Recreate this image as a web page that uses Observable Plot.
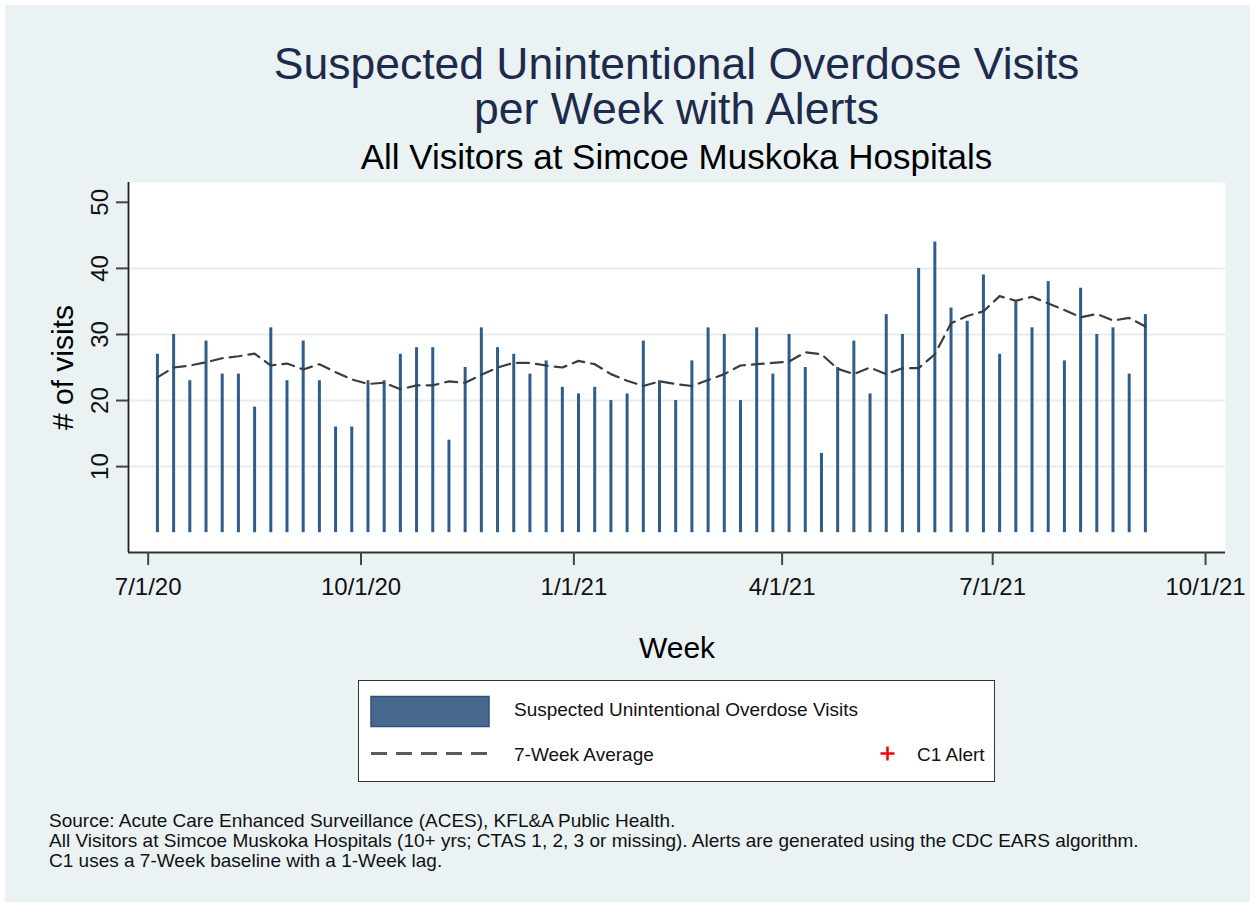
<!DOCTYPE html>
<html><head><meta charset="utf-8">
<script src="https://cdn.jsdelivr.net/npm/d3@7"></script>
<script src="https://cdn.jsdelivr.net/npm/@observablehq/plot@0.6"></script>
<style>
body{margin:0;background:#fff;width:1256px;height:907px;overflow:hidden;position:relative;font-family:"Liberation Sans",Arial,sans-serif;}
#bg{position:absolute;left:5px;top:5px;width:1245px;height:897px;background:#eaf2f3;}
.t{position:absolute;white-space:nowrap;line-height:1;}
.c{left:0;width:1353px;text-align:center;}
#chart{position:absolute;left:0;top:170px;}
#legend{position:absolute;left:358px;top:680px;width:635px;height:100px;background:#fff;border:1.5px solid #333;}
</style></head><body>
<div id="bg"></div>
<div class="t c" style="top:42px;font-size:44.5px;line-height:43px;color:#1c2b4b;">Suspected Unintentional Overdose Visits</div>
<div class="t c" style="top:87px;font-size:44.5px;line-height:43px;color:#1c2b4b;">per Week with Alerts</div>
<div class="t c" style="top:139px;font-size:35px;color:#000;">All Visitors at Simcoe Muskoka Hospitals</div>
<div id="chart"></div>
<div id="legend">
  <svg width="635" height="100" style="position:absolute;left:0;top:0">
    <rect x="12" y="15.5" width="118" height="30" fill="#476a8c" stroke="#2c5279" stroke-width="1.5"/>
    <line x1="12" x2="130" y1="72.5" y2="72.5" stroke="#5a5a5a" stroke-width="3" stroke-dasharray="16,9"/>
    <line x1="521.5" x2="535.5" y1="72.5" y2="72.5" stroke="#ff0000" stroke-width="2.5"/>
    <line x1="528.5" x2="528.5" y1="65.5" y2="79.5" stroke="#ff0000" stroke-width="2.5"/>
  </svg>
</div>
<div class="t" style="left:514px;top:700px;font-size:19px;color:#111;">Suspected Unintentional Overdose Visits</div>
<div class="t" style="left:514px;top:745px;font-size:19px;color:#111;">7-Week Average</div>
<div class="t" style="left:917px;top:745px;font-size:19px;color:#111;">C1 Alert</div>
<div class="t" style="left:49px;top:811px;font-size:19px;color:#111;">Source: Acute Care Enhanced Surveillance (ACES), KFL&amp;A Public Health.</div>
<div class="t" style="left:49px;top:831px;font-size:19px;color:#111;">All Visitors at Simcoe Muskoka Hospitals (10+ yrs; CTAS 1, 2, 3 or missing). Alerts are generated using the CDC EARS algorithm.</div>
<div class="t" style="left:49px;top:851px;font-size:19px;color:#111;">C1 uses a 7-Week baseline with a 1-Week lag.</div>
<script>
const weeks = ["2020-07-05","2020-07-12","2020-07-19","2020-07-26","2020-08-02","2020-08-09","2020-08-16","2020-08-23","2020-08-30",
  "2020-09-06","2020-09-13","2020-09-20","2020-09-27","2020-10-04","2020-10-11","2020-10-18","2020-10-25","2020-11-01",
  "2020-11-08","2020-11-15","2020-11-22","2020-11-29","2020-12-06","2020-12-13","2020-12-20","2020-12-27","2021-01-03",
  "2021-01-10","2021-01-17","2021-01-24","2021-01-31","2021-02-07","2021-02-14","2021-02-21","2021-02-28","2021-03-07",
  "2021-03-14","2021-03-21","2021-03-28","2021-04-04","2021-04-11","2021-04-18","2021-04-25","2021-05-02","2021-05-09",
  "2021-05-16","2021-05-23","2021-05-30","2021-06-06","2021-06-13","2021-06-20","2021-06-27","2021-07-04","2021-07-11",
  "2021-07-18","2021-07-25","2021-08-01","2021-08-08","2021-08-15","2021-08-22","2021-08-29","2021-09-05"];
const visits = [27,30,23,29,24,24,19,31,23,29,23,16,16,23,23,27,28,28,14,25,31,28,27,24,26,22,21,22,20,21,
  29,23,20,26,31,30,20,31,24,30,25,12,25,29,21,33,30,40,44,34,32,39,27,35,31,38,26,37,30,31,24,33];
const avg7 = [23.5,25.0,25.3,25.8,26.4,26.7,27.1,25.3,25.6,24.7,25.5,24.3,23.2,22.5,22.7,21.7,22.3,22.3,22.9,22.7,
  23.9,25.0,25.7,25.7,25.3,25.0,26.0,25.5,24.0,23.0,22.2,22.9,22.5,22.2,23.1,24.0,25.3,25.5,25.7,25.9,
  27.3,27.0,24.8,24.0,25.0,24.0,24.9,24.9,27.0,31.7,32.8,33.5,35.8,35.1,35.7,34.7,33.7,32.6,33.1,32.1,32.5,31.2];
const yTicks = [10,20,30,40,50];
const yGrid = [10,20,30,40];
const yDomain = [-3, 53];
const xTickDates = ["2020-07-01","2020-10-01","2021-01-01","2021-04-01","2021-07-01","2021-10-01"];
const xTickLabels = ["7/1/20","10/1/20","1/1/21","4/1/21","7/1/21","10/1/21"];
const xDomainStr = ["2020-06-22T12:00:00Z","2021-10-09T15:00:00Z"];

const parse = s => new Date(s.length === 10 ? s + "T00:00:00Z" : s);
const data = weeks.map((w, i) => ({date: parse(w), visits: visits[i], avg: avg7[i]}));
const xDomain = xDomainStr.map(parse);
const tickDates = xTickDates.map(parse);
const labelMap = new Map(tickDates.map((d, i) => [+d, xTickLabels[i]]));

const chart = Plot.plot({
  width: 1256, height: 500,
  marginTop: 12, marginBottom: 118, marginLeft: 128, marginRight: 31,
  style: {background: "transparent", fontFamily: "'Liberation Sans', Arial, sans-serif", color: "#111", overflow: "visible"},
  x: {type: "utc", domain: xDomain},
  y: {domain: yDomain},
  marks: [
    Plot.frame({fill: "white", stroke: null}),
    Plot.gridY(yGrid, {stroke: "#e4edef", strokeWidth: 2, strokeOpacity: 1}),
    Plot.ruleX(data, {x: "date", y1: 0, y2: "visits", stroke: "#2f5d8a", strokeWidth: 3}),
    Plot.line(data, {x: "date", y: "avg", stroke: "#3c3c3c", strokeWidth: 2.2, strokeDasharray: "12,7"}),
    Plot.ruleY([yDomain[0]], {stroke: "#333", strokeWidth: 1.8}),
    Plot.ruleX([xDomain[0]], {stroke: "#222", strokeWidth: 1.8}),
    Plot.axisY(yTicks, {anchor: "left", tickSize: 12, tickPadding: 9, tickRotate: -90, fontSize: 24,
      stroke: "#444", strokeWidth: 2, fill: "#111", label: null}),
    Plot.axisY([], {anchor: "left", tickSize: 0, fontSize: 30, fill: "#000",
      label: "# of visits", labelAnchor: "center", labelOffset: 77, labelArrow: "none"}),
    Plot.axisX(tickDates, {anchor: "bottom", tickSize: 13, tickPadding: 12, fontSize: 24,
      stroke: "#444", strokeWidth: 2, fill: "#111", tickFormat: d => labelMap.get(+d), label: null}),
    Plot.axisX([], {anchor: "bottom", tickSize: 0, fontSize: 30, fill: "#000",
      label: "Week", labelAnchor: "center", labelOffset: 105, labelArrow: "none"})
  ]
});
document.getElementById("chart").appendChild(chart);
</script>
</body></html>
